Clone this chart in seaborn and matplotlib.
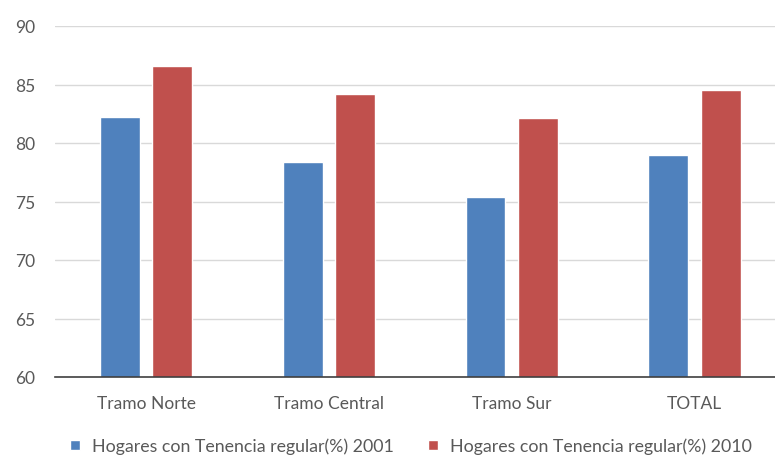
import numpy as np
import pandas as pd
import matplotlib.pyplot as plt
import seaborn as sns

# Values
tramos = ['Tramo Norte', 'Tramo Central', 'Tramo Sur', 'TOTAL']
tenencia_2001 = [82.2, 78.4, 75.4, 79.0]
tenencia_2010 = [86.6, 84.2, 82.1, 84.5]
series = ['Hogares con Tenencia regular(%) 2001', 'Hogares con Tenencia regular(%) 2010']
yticks = [60, 65, 70, 75, 80, 85, 90]

data = pd.DataFrame({
    'Tramo': tramos * 2,
    'Valor': tenencia_2001 + tenencia_2010,
    'Serie': [series[0]] * len(tramos) + [series[1]] * len(tramos),
})

sns.set_style('white')
plt.rcParams['font.family'] = ['Lato', 'DejaVu Sans']
text_color = '#595959'

fig = plt.figure(figsize=(7.75, 4.6), dpi=100)
ax = fig.add_axes([54.7 / 775, 1 - 378 / 460, 731.3 / 775, 351 / 460])

sns.barplot(data=data, x='Tramo', y='Valor', hue='Serie', order=tramos,
            hue_order=series, palette=['#4F81BD', '#C0504D'],
            width=0.573, gap=0.24, saturation=1, ax=ax, legend=True)

ax.set_ylim(60, 90)
ax.set_xlim(-0.5, 3.5)
ax.set_yticks(yticks)
ax.yaxis.grid(True, color='#d9d9d9', linewidth=1)
ax.set_axisbelow(True)
for side in ['top', 'right', 'left']:
    ax.spines[side].set_visible(False)
ax.spines['bottom'].set_color('#404040')
ax.spines['bottom'].set_linewidth(1.2)
ax.tick_params(axis='both', length=0, colors=text_color, labelsize=12.5)
ax.tick_params(axis='y', pad=14)
ax.tick_params(axis='x', pad=13)
ax.set_xlabel('')
ax.set_ylabel('')

handles, labels = ax.get_legend_handles_labels()
ax.get_legend().remove()
fig.legend(handles, labels, loc='center', bbox_to_anchor=(411 / 775, 1 - 447 / 460),
           ncol=2, frameon=False, fontsize=12.8, labelcolor=text_color,
           handlelength=0.55, handleheight=0.55, handletextpad=0.7, columnspacing=1.9)

fig.savefig('out.png', dpi=100)
